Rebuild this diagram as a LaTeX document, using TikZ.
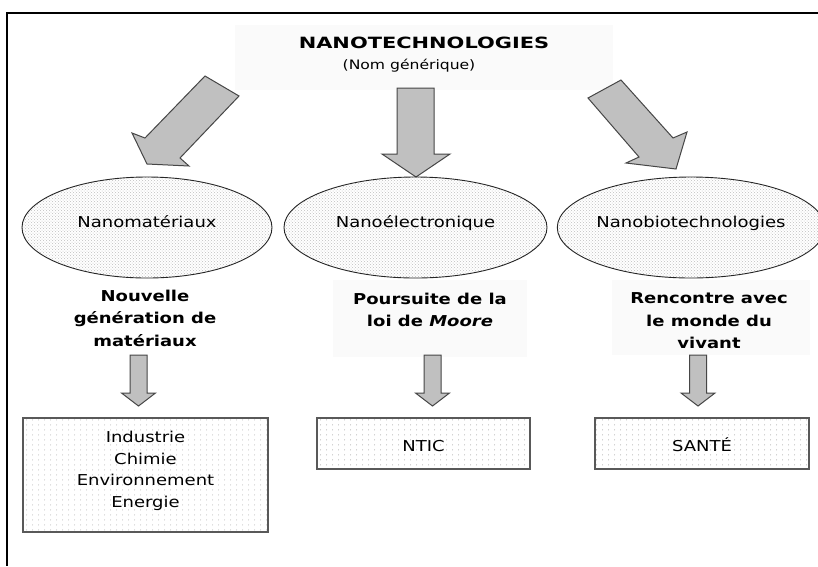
\documentclass[tikz,border=0pt]{standalone}
\usepackage{fontspec}
\setmainfont{DejaVu Sans}[FakeStretch=1.2]
\newfontfamily\titlefont{DejaVu Sans}[FakeStretch=1.35]
\usetikzlibrary{shapes.geometric,patterns,patterns.meta}
\definecolor{arrowfill}{RGB}{192,192,192}
\definecolor{arrowline}{RGB}{70,70,70}
\definecolor{faint}{RGB}{250,250,250}
\tikzdeclarepattern{
  name=sparsedots,
  type=uncolored,
  bounding box={(0pt,0pt) and (6pt,5pt)},
  tile size={(6pt,5pt)},
  code={\fill (3pt,2.5pt) circle (0.55pt);}
}
\tikzset{
  bigarrow/.style={fill=arrowfill, draw=arrowline, line width=1pt, line join=miter},
  oval/.style={ellipse, draw=black!85, line width=0.9pt, pattern=crosshatch dots,
    pattern color=black!25, minimum height=101pt, inner sep=0pt,
    text height=11pt, text depth=12pt},
  catbox/.style={rectangle, draw=black!65, line width=1.2pt, pattern=sparsedots,
    pattern color=black!35, inner sep=0pt, align=center},
  desc/.style={font=\fontsize{15}{22.5}\selectfont\bfseries, align=center},
}
\begin{document}
\begin{tikzpicture}[x=1pt,y=-1pt,font=\fontsize{15}{21}\selectfont]
\useasboundingbox (0,0) rectangle (818,566);
\fill[white] (0,0) rectangle (818,566);
% faint backgrounds
\fill[faint] (235,25) rectangle (613,90);
\fill[faint] (333,280) rectangle (527,357);
\fill[faint] (612,280) rectangle (810,355);
% frame
\draw[line width=2pt] (818,13) -- (7,13) -- (7,566);
% title
\node[font=\titlefont\fontsize{15.5}{18}\selectfont\bfseries, inner sep=0pt] (title) at (424,43) {NANOTECHNOLOGIES};
\node[font=\fontsize{13}{16}\selectfont, inner sep=0pt] (subtitle) at (409,66) {(Nom générique)};
% big arrows
\filldraw[bigarrow] (205,76) -- (239,96) -- (180,158) -- (189,166) -- (147,164) -- (132,133) -- (145,138) -- cycle;
\filldraw[bigarrow] (397,88) -- (434,88) -- (434,154) -- (450,154) -- (416,177) -- (382,154) -- (397,154) -- cycle;
\filldraw[bigarrow] (621,80) -- (673,138) -- (687,132) -- (676,169) -- (626,163) -- (639,157) -- (588,98) -- cycle;
% ellipses
\node[oval, minimum width=250pt] (nmat) at (147,227.5) {Nanomatériaux};
\node[oval, minimum width=263pt] (nelec) at (415.5,227.5) {Nanoélectronique};
\node[oval, minimum width=252pt] (nbio) at (691,227.5) {Nanobiotechnologies};
% descriptions
\node[desc] (dmat) at (145,318) {Nouvelle\\génération de\\matériaux};
\node[desc] (delec) at (430,310) {Poursuite de la\\loi de \textit{Moore}};
\node[desc] (dbio) at (709,321) {Rencontre avec\\le monde du\\vivant};
% small arrows
\filldraw[bigarrow] (130,355) -- (147,355) -- (147,393) -- (155.5,393) -- (138.5,406) -- (121.5,393) -- (130,393) -- cycle;
\filldraw[bigarrow] (424,355) -- (441,355) -- (441,393) -- (449.5,393) -- (432.5,406) -- (415.5,393) -- (424,393) -- cycle;
\filldraw[bigarrow] (689.5,355) -- (706.5,355) -- (706.5,393) -- (715,393) -- (698,406) -- (681,393) -- (689.5,393) -- cycle;
% boxes
\node[catbox, minimum width=245pt, minimum height=114pt, text depth=11pt,
  font=\fontsize{15}{21.5}\selectfont] (bind) at (145.5,475) {Industrie\\Chimie\\Environnement\\Energie};
\node[catbox, minimum width=213pt, minimum height=51pt, text height=16pt, text depth=0pt] (bntic) at (423.5,443.5) {NTIC};
\node[catbox, minimum width=214pt, minimum height=51pt, text height=16pt, text depth=0pt] (bsante) at (702,443.5) {SANTÉ};
\end{tikzpicture}
\end{document}
